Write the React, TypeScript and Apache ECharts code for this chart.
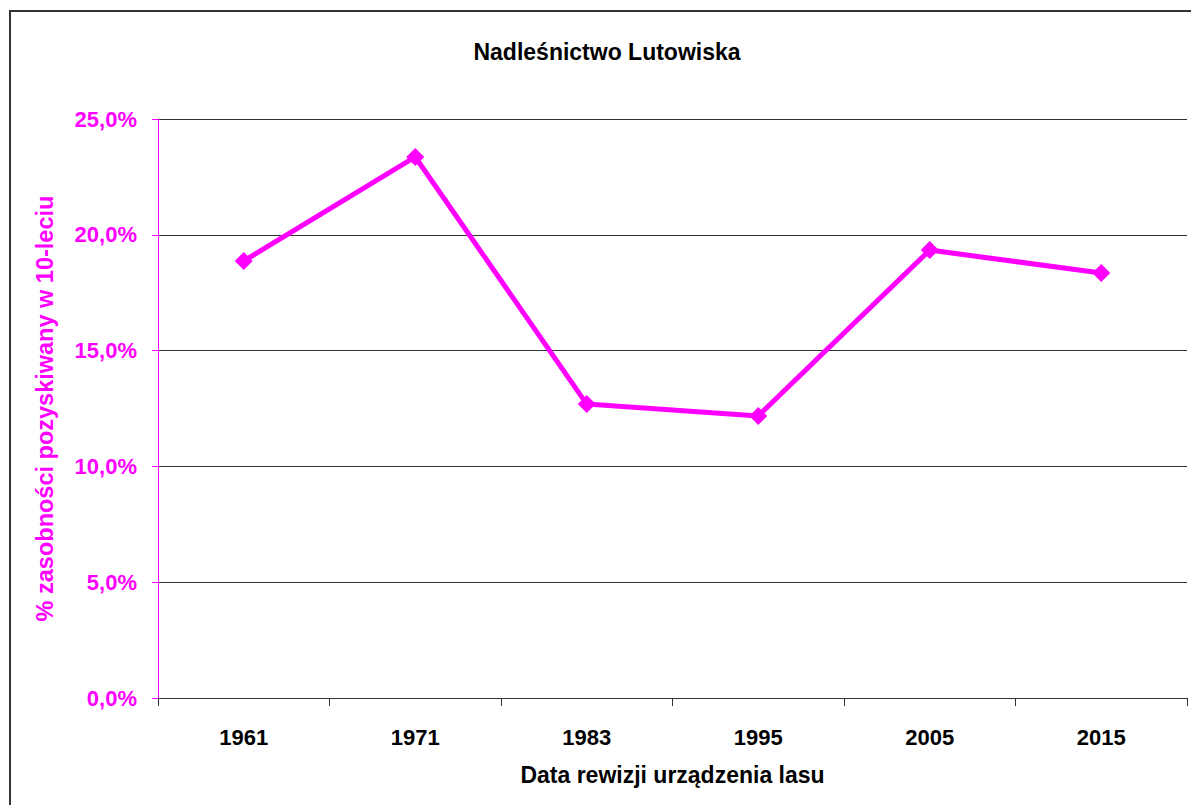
import React, { useEffect, useRef } from "react";
import * as echarts from "echarts";

const categories = ["1961", "1971", "1983", "1995", "2005", "2015"];
const values = [18.87, 23.36, 12.69, 12.18, 19.34, 18.35];
const yTicks = [0, 5, 10, 15, 20, 25];

const MAG = "#FF00FF";
const FONT = "'Liberation Sans', Arial, sans-serif";

export default function App() {
  const ref = useRef<HTMLDivElement>(null);
  useEffect(() => {
    if (!ref.current) return;
    const chart = echarts.init(ref.current, undefined, { renderer: "svg" });
    chart.setOption({
      animation: false,
      backgroundColor: "#fff",
      title: {
        text: "Nadleśnictwo Lutowiska",
        left: 602,
        top: 35,
        textAlign: "center",
        textStyle: { fontFamily: FONT, fontSize: 23, fontWeight: "bold", color: "#000" },
      },
      graphic: [
        {
          type: "rect",
          shape: { x: 10, y: 11, width: 1200, height: 820 },
          style: { fill: "none", stroke: "#333", lineWidth: 2 },
          silent: true,
        },
      ],
      grid: { left: 158, top: 119, right: 4, bottom: 107, containLabel: false },
      xAxis: {
        type: "category",
        data: categories,
        boundaryGap: true,
        name: "Data rewizji urządzenia lasu",
        nameLocation: "middle",
        nameGap: 65,
        nameTextStyle: { fontFamily: FONT, fontSize: 23, fontWeight: "bold", color: "#000" },
        axisLine: { lineStyle: { color: "#333", width: 1 } },
        axisTick: { show: true, length: 8, lineStyle: { color: "#333" } },
        axisLabel: { fontFamily: FONT, fontSize: 22, fontWeight: "bold", color: "#000", margin: 28 },
      },
      yAxis: {
        type: "value",
        min: yTicks[0],
        max: yTicks[yTicks.length - 1],
        interval: 5,
        name: "% zasobności pozyskiwany w 10-leciu",
        nameLocation: "middle",
        nameGap: 101,
        nameRotate: 90,
        nameTextStyle: { fontFamily: FONT, fontSize: 23.5, fontWeight: "bold", color: MAG },
        axisLine: { show: true, lineStyle: { color: MAG, width: 1 } },
        axisTick: { show: true, length: 6, lineStyle: { color: MAG } },
        axisLabel: {
          fontFamily: FONT,
          fontSize: 22,
          fontWeight: "bold",
          color: MAG,
          margin: 21,
          formatter: (v: number) => v.toFixed(1).replace(".", ",") + "%",
        },
        splitLine: { show: true, lineStyle: { color: "#333", width: 1 } },
      },
      series: [
        {
          type: "line",
          data: values,
          symbol: "diamond",
          symbolSize: 18,
          lineStyle: { color: MAG, width: 5 },
          itemStyle: { color: MAG },
        },
      ],
    });
    return () => chart.dispose();
  }, []);
  return (
    <div
      ref={ref}
      style={{ position: "fixed", left: 0, top: 0, width: 1191, height: 805 }}
    />
  );
}
